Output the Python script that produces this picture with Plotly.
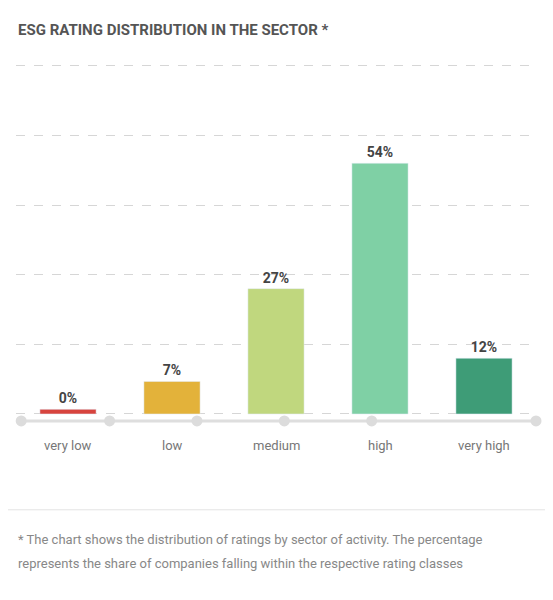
import plotly.graph_objects as go

categories = ["very low", "low", "medium", "high", "very high"]
values = [0, 7, 27, 54, 12]
bar_heights = [1, 7, 27, 54, 12]  # 0% is drawn as a thin stub
labels = ["0%", "7%", "27%", "54%", "12%"]
colors = ["#d7443e", "#e3b23a", "#c0d77e", "#7fd0a5", "#3e9c77"]
dot_x = [-0.45, 0.4, 1.24, 2.08, 2.92, 4.5]
footnote = [
    "* The chart shows the distribution of ratings by sector of activity. The percentage",
    "represents the share of companies falling within the respective rating classes",
]

fig = go.Figure()
fig.add_trace(go.Bar(
    x=list(range(5)), y=bar_heights, width=0.54, marker_color=colors,
    text=labels, textposition="outside", cliponaxis=False,
    textfont=dict(size=14, color="#444", family="Roboto", weight="bold"),
    hoverinfo="skip"))
# axis line with dots
fig.add_trace(go.Scatter(
    x=[-0.5, 4.5], y=[-1.5, -1.5], mode="lines",
    line=dict(color="#dedede", width=3), cliponaxis=False, hoverinfo="skip"))
fig.add_trace(go.Scatter(
    x=dot_x, y=[-1.5] * len(dot_x), mode="markers",
    marker=dict(size=11, color="#dcdcdc"), cliponaxis=False, hoverinfo="skip"))

for i, c in enumerate(categories):
    fig.add_annotation(x=i, yref="paper", y=-0.042, text=c, showarrow=False,
                       yanchor="middle", font=dict(size=13, color="#777"))

fig.add_annotation(xref="paper", yref="paper", x=0.0, y=1.053,
                   text="<b>ESG RATING DISTRIBUTION IN THE SECTOR *</b>",
                   showarrow=False, xanchor="left", yanchor="middle",
                   font=dict(size=15, color="#555", family="Roboto"))
fig.add_shape(type="line", xref="paper", yref="paper", x0=-0.04, x1=1.06,
              y0=-0.21, y1=-0.21, line=dict(color="#e3e3e3", width=1))
for line, yy in zip(footnote, [-0.289, -0.35]):
    fig.add_annotation(xref="paper", yref="paper", x=0.0, y=yy, text=line,
                       showarrow=False, xanchor="left", yanchor="middle",
                       font=dict(size=13, color="#888", family="Roboto"))

fig.update_layout(
    width=553, height=600, margin=dict(l=8, r=25, t=42, b=178),
    plot_bgcolor="white", paper_bgcolor="white", showlegend=False,
    font=dict(family="Roboto"),
    xaxis=dict(range=[-0.5, 4.5], showticklabels=False, showgrid=False, zeroline=False),
    yaxis=dict(range=[-3.45, 78.4], tickvals=[0, 15, 30, 45, 60, 75], showticklabels=False,
               gridcolor="#d6d6d6", griddash="dash", zeroline=False),
)
fig.write_html("out.html")
